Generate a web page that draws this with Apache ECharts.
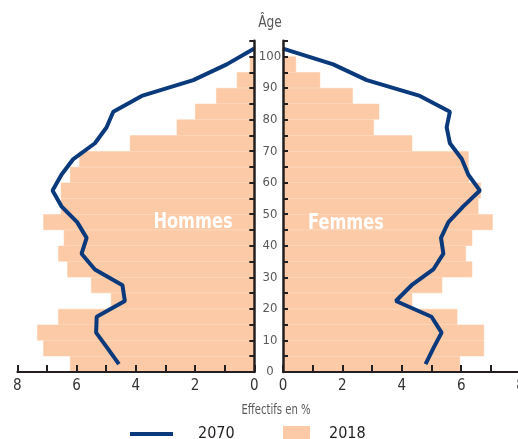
<!DOCTYPE html>
<html>
<head>
<meta charset="utf-8">
<script src="https://cdn.jsdelivr.net/npm/echarts@6/dist/echarts.min.js"></script>
<style>
  html, body { margin: 0; padding: 0; background: #fff; }
  #chart { width: 518px; height: 439px; }
</style>
</head>
<body>
<div id="chart"></div>
<script>
// tranches d'âge (5 ans) pour les barres 2018
const ageGroups = ['0-4', '5-9', '10-14', '15-19', '20-24', '25-29', '30-34', '35-39', '40-44', '45-49',
  '50-54', '55-59', '60-64', '65-69', '70-74', '75-79', '80-84', '85-89', '90-94', '95-99', '100+']
// milieu de chaque tranche pour la courbe 2070
const ageMid = [2.5, 7.5, 12.5, 17.5, 22.5, 27.5, 32.5, 37.5, 42.5, 47.5,
  52.5, 57.5, 62.5, 67.5, 72.5, 77.5, 82.5, 87.5, 92.5, 97.5, 102.5]

const hommes2018 = [6.22, 7.12, 7.33, 6.62, 4.84, 5.51, 6.31, 6.62, 6.43, 7.12,
  6.53, 6.53, 6.22, 5.91, 4.20, 2.62, 2.00, 1.29, 0.59, 0.15, 0]
const femmes2018 = [5.96, 6.77, 6.77, 5.87, 4.35, 5.36, 6.37, 6.16, 6.37, 7.06,
  6.58, 6.66, 6.27, 6.25, 4.35, 3.06, 3.24, 2.35, 1.25, 0.44, 0]

const hommes2070 = [4.57, 4.95, 5.34, 5.32, 4.37, 4.45, 5.38, 5.83, 5.66, 5.98,
  6.51, 6.81, 6.51, 6.11, 5.38, 4.99, 4.76, 3.80, 2.06, 0.93, 0]
const femmes2070 = [4.80, 5.06, 5.34, 5.00, 3.80, 4.33, 5.06, 5.40, 5.32, 5.57,
  6.07, 6.63, 6.24, 6.02, 5.62, 5.51, 5.62, 4.61, 2.82, 1.69, 0]

const xTicks = [0, 8]
const ageRange = [0, 105]

const FONT = "'DejaVu Sans Condensed', 'Liberation Sans Narrow', sans-serif"
const peach = '#fccaa6'
const navy = '#0b3a7c'
const axisColor = '#231f20'
const grey = '#58595b'

const chart = echarts.init(document.getElementById('chart'))

const valueX = (gridIndex, inverse) => ({
  type: 'value',
  gridIndex,
  inverse,
  min: xTicks[0],
  max: xTicks[1],
  interval: 1,
  z: 10,
  axisLine: { show: true, lineStyle: { color: axisColor, width: 2 } },
  axisTick: { show: true, inside: true, length: 7, lineStyle: { color: axisColor, width: 2 } },
  axisLabel: {
    margin: 7,
    fontFamily: FONT,
    fontSize: 15,
    color: '#333',
    formatter: v => (v % 2 === 0 ? String(v) : '')
  },
  splitLine: { show: false }
})

const catY = (gridIndex) => ({
  type: 'category',
  gridIndex,
  data: ageGroups,
  boundaryGap: true,
  show: false
})

const valueY = (gridIndex, position, showLabel) => ({
  type: 'value',
  gridIndex,
  position,
  min: ageRange[0],
  max: ageRange[1],
  interval: 5,
  z: 10,
  axisLine: { show: true, lineStyle: { color: axisColor, width: 2.5 } },
  axisTick: { show: true, inside: true, length: 5, lineStyle: { color: axisColor, width: 2 } },
  axisLabel: {
    show: showLabel,
    align: 'center',
    margin: 13,
    fontFamily: FONT,
    fontSize: 13,
    color: grey,
    formatter: v => (v % 10 === 0 && v <= 100 ? String(v) : '')
  },
  splitLine: { show: false }
})

const option = {
  animation: false,
  grid: [
    { left: 17.3, top: 40.7, width: 237, height: 331.3, outerBoundsMode: 'none' },
    { left: 283, top: 40.7, width: 237.6, height: 331.3, outerBoundsMode: 'none' }
  ],
  xAxis: [valueX(0, true), valueX(1, false)],
  yAxis: [catY(0), valueY(0, 'right', false), catY(1), valueY(1, 'left', true)],
  legend: [
    {
      data: [{ name: '2070', icon: 'rect' }],
      left: 130,
      top: 426,
      padding: 0,
      itemWidth: 43,
      itemHeight: 4,
      textStyle: { fontFamily: FONT, fontSize: 16, color: axisColor, padding: [0, 0, 7, 20] },
      selectedMode: false
    },
    {
      data: [{ name: '2018', icon: 'rect' }],
      left: 283,
      top: 426,
      padding: 0,
      itemWidth: 25,
      itemHeight: 14,
      textStyle: { fontFamily: FONT, fontSize: 16, color: axisColor, padding: [0, 0, 5, 15] },
      selectedMode: false
    }
  ],
  graphic: [
    { type: 'text', x: 270, y: 23, scaleX: 0.85, style: { text: 'Âge', fontFamily: FONT, fontSize: 16, fill: grey, align: 'center', verticalAlign: 'middle' } },
    { type: 'text', x: 276, y: 410, scaleX: 0.8, style: { text: 'Effectifs en %', fontFamily: FONT, fontSize: 14, fill: grey, align: 'center', verticalAlign: 'middle' } },
    { type: 'text', x: 193, y: 222, z: 20, scaleX: 0.82, style: { text: 'Hommes', fontFamily: FONT, fontSize: 22, fontWeight: 'bold', fill: '#fff', align: 'center', verticalAlign: 'middle' } },
    { type: 'text', x: 346, y: 223, z: 20, scaleX: 0.82, style: { text: 'Femmes', fontFamily: FONT, fontSize: 22, fontWeight: 'bold', fill: '#fff', align: 'center', verticalAlign: 'middle' } }
  ],
  series: [
    {
      name: '2018',
      type: 'bar',
      xAxisIndex: 0,
      yAxisIndex: 0,
      data: hommes2018,
      barCategoryGap: '0%',
      itemStyle: { color: peach, borderColor: peach, borderWidth: 0.5 }
    },
    {
      name: '2018',
      type: 'bar',
      xAxisIndex: 1,
      yAxisIndex: 2,
      data: femmes2018,
      barCategoryGap: '0%',
      itemStyle: { color: peach, borderColor: peach, borderWidth: 0.5 }
    },
    {
      name: '2070',
      type: 'line',
      xAxisIndex: 0,
      yAxisIndex: 1,
      data: hommes2070.map((v, i) => [v, ageMid[i]]),
      symbol: 'none',
      z: 5,
      lineStyle: { color: navy, width: 4 },
      itemStyle: { color: navy }
    },
    {
      name: '2070',
      type: 'line',
      xAxisIndex: 1,
      yAxisIndex: 3,
      data: femmes2070.map((v, i) => [v, ageMid[i]]),
      symbol: 'none',
      z: 5,
      lineStyle: { color: navy, width: 4 },
      itemStyle: { color: navy }
    }
  ]
}

chart.setOption(option)

window.addEventListener('resize', () => {
  chart.resize()
})
</script>
</body>
</html>
